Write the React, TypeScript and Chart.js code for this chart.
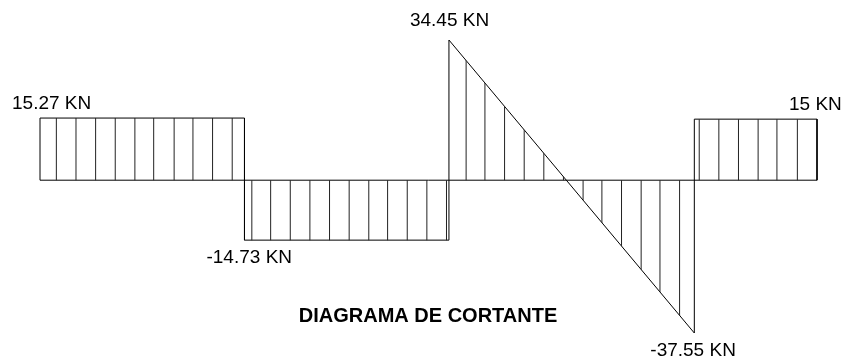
import { useEffect, useRef } from "react";
import { Chart, registerables } from "chart.js";

Chart.register(...registerables);

// Beam positions (m) and shear values (KN) of the outline
const positions = [0, 0, 2.5, 2.5, 5, 5, 8, 8, 9.5, 9.5];
const shear = [0, 15.27, 15.27, -14.73, -14.73, 34.45, -37.55, 15, 15, 0];

// Hatch line positions along the beam (m)
const hatchX = [
  0.2, 0.44, 0.68, 0.92, 1.16, 1.39, 1.64, 1.87, 2.11, 2.35,
  2.59, 2.82, 3.06, 3.3, 3.54, 3.78, 4.02, 4.25, 4.49, 4.73, 4.97,
  5.21, 5.44, 5.68, 5.92, 6.16, 6.4, 6.64, 6.87, 7.11, 7.35, 7.58, 7.82,
  8.06, 8.3, 8.54, 8.78, 9.01, 9.26,
];

// Value labels, attached to outline point indices
const labelTexts = ["15.27 KN", "-14.73 KN", "34.45 KN", "-37.55 KN", "15 KN"];
const labelIndex = [1, 3, 5, 6, 8];

const titleText = "DIAGRAMA DE CORTANTE";

const FONT = '"Liberation Sans", Arial, sans-serif';

export default function App() {
  const ref = useRef<HTMLCanvasElement | null>(null);

  useEffect(() => {
    document.body.style.margin = "0";
    const canvas = ref.current;
    if (!canvas) return;

    const labelOffsets = [
      [-28, -14],
      [-38, 18],
      [-39, -19],
      [-44, 18],
      [-28, -14],
    ];

    const drawPlugin = {
      id: "shearDecor",
      afterDatasetsDraw(chart: any) {
        const ctx = chart.ctx as CanvasRenderingContext2D;
        const xs = chart.scales.x;
        const pts = chart.getDatasetMeta(0).data;

        // hatch lines clipped to diagram region
        ctx.save();
        ctx.beginPath();
        pts.forEach((p: any, i: number) => {
          if (i === 0) ctx.moveTo(p.x, p.y);
          else ctx.lineTo(p.x, p.y);
        });
        ctx.closePath();
        ctx.clip();
        ctx.strokeStyle = "#222";
        ctx.lineWidth = 1;
        ctx.beginPath();
        hatchX.forEach((v) => {
          const px = xs.getPixelForValue(v);
          ctx.moveTo(px, 0);
          ctx.lineTo(px, chart.height);
        });
        ctx.stroke();
        ctx.restore();

        // value labels
        ctx.save();
        ctx.fillStyle = "#000";
        ctx.font = `19px ${FONT}`;
        ctx.textAlign = "left";
        ctx.textBaseline = "middle";
        labelTexts.forEach((t, i) => {
          const p = pts[labelIndex[i]];
          const [dx, dy] = labelOffsets[i];
          ctx.fillText(t, p.x + dx, p.y + dy);
        });

        // title
        ctx.font = `bold 20px ${FONT}`;
        ctx.textAlign = "center";
        ctx.fillText(titleText, 428, 316);
        ctx.restore();
      },
    };

    const chart = new Chart(canvas, {
      type: "line",
      data: {
        datasets: [
          {
            data: positions.map((x, i) => ({ x, y: shear[i] })),
            borderColor: "#000",
            borderWidth: 1,
            pointRadius: 0,
            tension: 0,
            fill: false,
            clip: false as any,
          },
          {
            data: [
              { x: positions[0], y: 0 },
              { x: positions[positions.length - 1], y: 0 },
            ],
            borderColor: "#000",
            borderWidth: 1,
            pointRadius: 0,
            fill: false,
            clip: false as any,
          },
        ],
      },
      options: {
        animation: false,
        responsive: false,
        devicePixelRatio: 1,
        layout: { padding: { left: 40, right: 29, top: 40, bottom: 29 } },
        scales: {
          x: { type: "linear", min: 0, max: 9.5, display: false },
          y: { type: "linear", min: -37.55, max: 34.45, display: false },
        },
        plugins: {
          legend: { display: false },
          tooltip: { enabled: false },
          title: { display: false },
        },
      },
      plugins: [drawPlugin],
    });

    return () => chart.destroy();
  }, []);

  return (
    <div style={{ width: 846, height: 362, background: "#fff" }}>
      <canvas ref={ref} width={846} height={362} />
    </div>
  );
}
